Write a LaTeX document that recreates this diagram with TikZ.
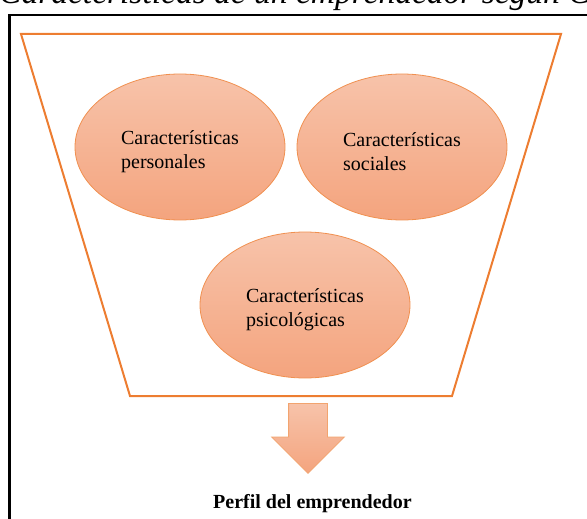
\documentclass[tikz,border=0pt]{standalone}
\usepackage{fontspec}
\setmainfont{Liberation Serif}
\usepackage{tikz}
\usetikzlibrary{shapes}
\usetikzlibrary{shapes.geometric}
\usetikzlibrary{shapes.arrows}
\usetikzlibrary{positioning}
\definecolor{orangeline}{RGB}{237,125,49}
\definecolor{peachtop}{RGB}{247,195,170}
\definecolor{peachbot}{RGB}{244,164,126}
\tikzstyle{trait}=[ellipse,draw=orangeline!85,line width=0.8pt,top color=peachtop,bottom color=peachbot,minimum width=210,minimum height=146,inner sep=0mm,text height=48pt,align=left,font=\fontsize{20}{24}\selectfont]
\tikzstyle{result}=[single arrow,rotate=-90,draw=orangeline!70,line width=0.8pt,top color=peachtop,bottom color=peachbot,minimum height=70,minimum width=72,single arrow head extend=17,single arrow tip angle=90,inner xsep=0mm,inner ysep=19pt,text height=0pt,text depth=0pt,anchor=tail]
\tikzstyle{funnel}=[draw=orangeline,line width=2pt,line join=miter]
\tikzstyle{frame}=[draw=black,line width=2.2pt]
\tikzset{every picture/.style={
    x=1pt,y=-1pt
  }
}

\begin{document}
\begin{tikzpicture}
        \useasboundingbox (0,0) rectangle (587,519);
        \clip (0,0) rectangle (587,519);
        \node[anchor=base west,inner sep=0mm,font=\itshape\fontsize{33.5}{36}\selectfont] at (-1,4) (title) {Características de un emprendedor según Ca};
        \draw[frame] (9.5,15) rectangle (620,560);
        \coordinate (tl) at (21,34);
        \coordinate (tr) at (561,34);
        \coordinate (br) at (452,396);
        \coordinate (bl) at (130,396);
        \draw[funnel] (tl) -- (tr) -- (br) -- (bl) -- cycle;
        \node[trait] at (180,147) (pers) {Características\\personales};
        \node[trait] at (402,147) (soc) {Características\\sociales};
        \node[trait] at (305,305) (psic) {Características\\psicológicas};
        \node[result] at (308,403) (down) {};
        \node[anchor=base west,inner sep=0mm,font=\bfseries\fontsize{20}{24}\selectfont] at (213,508) (perfil) {Perfil del emprendedor};
      \end{tikzpicture}
\end{document}
